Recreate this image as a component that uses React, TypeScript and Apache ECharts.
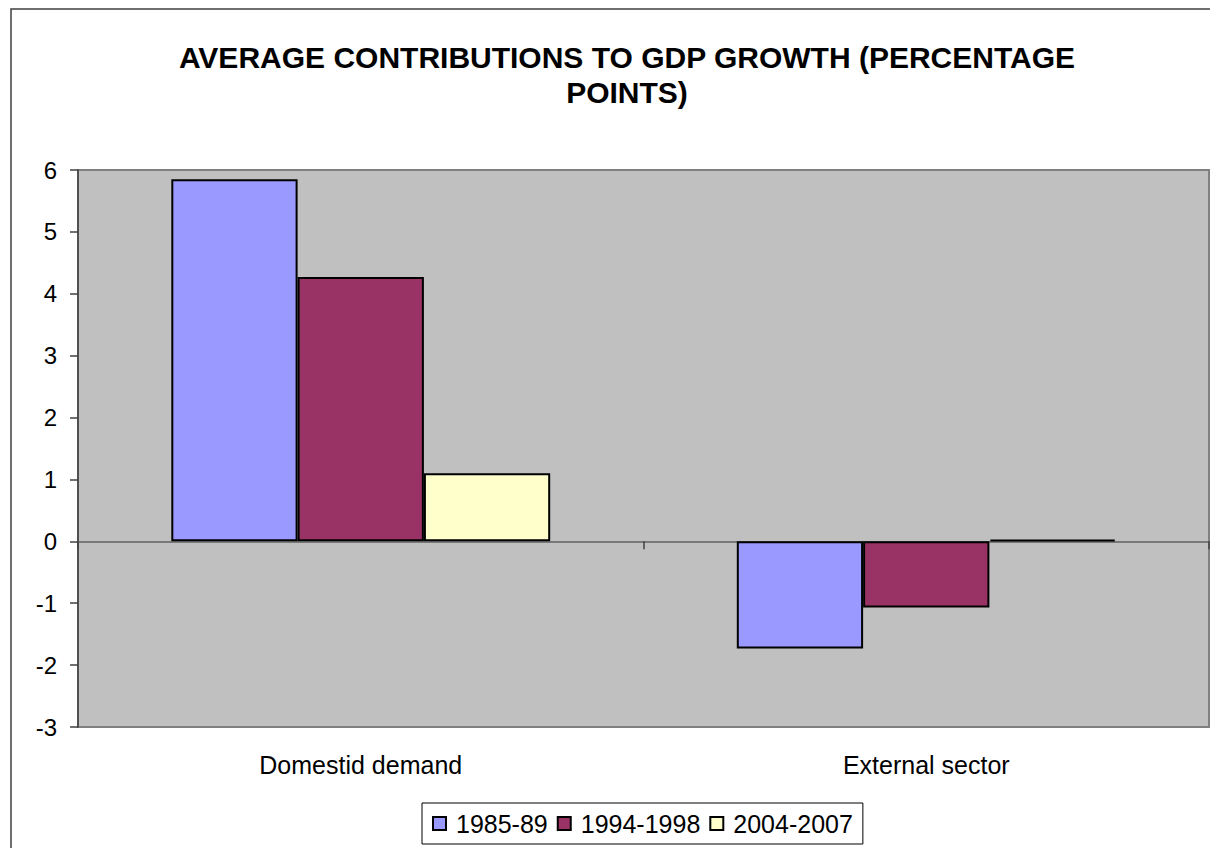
import React, { useEffect, useRef } from "react";
import * as echarts from "echarts";

const categories = ["Domestid demand", "External sector"];
const seriesNames = ["1985-89", "1994-1998", "2004-2007"];
const values1985 = [5.85, -1.73];
const values1994 = [4.27, -1.07];
const values2004 = [1.1, 0.03];
const colors = ["#9999FF", "#993366", "#FFFFCC"];
const titleLines = ["AVERAGE CONTRIBUTIONS TO GDP GROWTH (PERCENTAGE", "POINTS)"];

const FONT = "'Liberation Sans', Arial, sans-serif";

export default function App() {
  const ref = useRef<HTMLDivElement>(null);
  useEffect(() => {
    if (!ref.current) return;
    const chart = echarts.init(ref.current, undefined, { renderer: "svg" });
    const allValues = [values1985, values1994, values2004];
    chart.setOption({
      animation: false,
      backgroundColor: "#FFFFFF",
      textStyle: { fontFamily: FONT },
      graphic: [
        {
          type: "rect",
          shape: { x: 11, y: 9, width: 1300, height: 1000 },
          style: { fill: "none", stroke: "#404040", lineWidth: 1.5 },
          silent: true,
          z: -1,
        },
        {
          type: "text",
          x: 627,
          y: 57,
          style: {
            text: titleLines[0],
            font: `bold 30px ${FONT}`,
            fill: "#000",
            textAlign: "center",
            textVerticalAlign: "middle",
          },
        },
        {
          type: "text",
          x: 627,
          y: 92,
          style: {
            text: titleLines[1],
            font: `bold 30px ${FONT}`,
            fill: "#000",
            textAlign: "center",
            textVerticalAlign: "middle",
          },
        },
      ],
      grid: {
        left: 78,
        right: 1,
        top: 170,
        bottom: 121,
        show: true,
        backgroundColor: "#C0C0C0",
        borderColor: "#808080",
        borderWidth: 2,
      },
      legend: {
        left: 422,
        top: 803,
        padding: [8, 10, 8, 10],
        borderColor: "#000",
        borderWidth: 1,
        itemWidth: 13,
        itemHeight: 13,
        itemGap: 9,
        data: seriesNames,
        textStyle: { fontSize: 25, color: "#000", fontFamily: FONT, padding: [0, 0, 0, 5] },
        icon: "rect",
      },
      xAxis: [
        {
          type: "category",
          data: categories,
          position: "bottom",
          axisLine: { show: false, onZero: false },
          axisTick: { show: false },
          axisLabel: { fontSize: 25, color: "#000", margin: 25, fontFamily: FONT },
          splitLine: { show: false },
        },
        {
          type: "category",
          data: categories,
          position: "bottom",
          axisLine: { show: true, onZero: true, lineStyle: { color: "#606060", width: 1.5 } },
          axisTick: { show: true, length: 8, lineStyle: { color: "#404040", width: 1.5 } },
          axisLabel: { show: false },
          splitLine: { show: false },
        },
      ],
      yAxis: {
        type: "value",
        min: -3,
        max: 6,
        interval: 1,
        axisLine: { show: true, lineStyle: { color: "#404040", width: 1.5 } },
        axisTick: { show: true, length: 8, lineStyle: { color: "#404040", width: 1.5 } },
        axisLabel: { fontSize: 24, color: "#000", margin: 21, fontFamily: FONT },
        splitLine: { show: false },
      },
      series: seriesNames.map((name, i) => ({
        name,
        type: "bar",
        xAxisIndex: 0,
        data: allValues[i],
        barGap: "0%",
        barCategoryGap: "33%",
        itemStyle: { color: colors[i], borderColor: "#000", borderWidth: 2 },
      })),
    });
    return () => chart.dispose();
  }, []);
  return (
    <div
      ref={ref}
      style={{ position: "absolute", left: 0, top: 0, width: 1210, height: 848 }}
    />
  );
}
